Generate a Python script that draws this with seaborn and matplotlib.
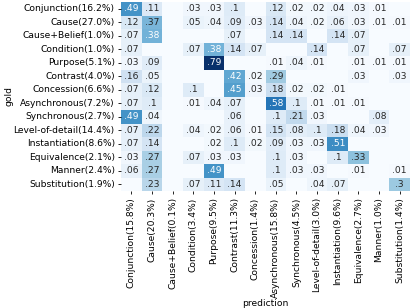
import numpy as np
import pandas as pd
import matplotlib
matplotlib.use("Agg")
import matplotlib.pyplot as plt
import seaborn as sns

gold_labels = [
    "Conjunction(16.2%)", "Cause(27.0%)", "Cause+Belief(1.0%)", "Condition(1.0%)",
    "Purpose(5.1%)", "Contrast(4.0%)", "Concession(6.6%)", "Asynchronous(7.2%)",
    "Synchronous(2.7%)", "Level-of-detail(14.4%)", "Instantiation(8.6%)",
    "Equivalence(2.1%)", "Manner(2.4%)", "Substitution(1.9%)",
]
pred_labels = [
    "Conjunction(15.8%)", "Cause(20.3%)", "Cause+Belief(0.1%)", "Condition(3.4%)",
    "Purpose(9.5%)", "Contrast(11.3%)", "Concession(1.4%)", "Asynchronous(15.8%)",
    "Synchronous(4.5%)", "Level-of-detail(3.0%)", "Instantiation(9.6%)",
    "Equivalence(2.7%)", "Manner(1.0%)", "Substitution(1.4%)",
]

# rows = gold, cols = prediction; 0 means empty cell
conf = [
    [.49, .11, 0, .03, .03, .10, 0, .12, .02, .02, .04, .03, .01, 0],
    [.12, .37, 0, .05, .04, .09, .03, .14, .04, .02, .06, .03, .01, .01],
    [.07, .38, 0, 0, 0, .07, 0, .14, .14, 0, .14, .07, 0, 0],
    [.07, 0, 0, .07, .38, .14, .07, 0, 0, .14, 0, .07, 0, .07],
    [.03, .09, 0, 0, .79, 0, 0, .01, .04, .01, 0, .01, .01, .01],
    [.16, .05, 0, 0, 0, .42, .02, .29, 0, 0, 0, .03, 0, .03],
    [.07, .12, 0, .10, 0, .45, .03, .18, .02, .02, .01, 0, 0, 0],
    [.07, .10, 0, .01, .04, .07, 0, .58, .10, .01, .01, .01, 0, 0],
    [.49, .04, 0, 0, 0, .06, 0, .10, .21, .03, 0, 0, .08, 0],
    [.07, .22, 0, .04, .02, .06, .01, .15, .08, .10, .18, .04, .03, 0],
    [.07, .14, 0, 0, .02, .10, .02, .09, .03, .03, .51, 0, 0, 0],
    [.03, .27, 0, .07, .03, .03, 0, .10, .03, 0, .10, .33, 0, 0],
    [.06, .27, 0, 0, .49, 0, 0, .10, .03, .03, 0, .01, 0, .01],
    [0, .23, 0, .07, .11, .14, 0, .05, 0, .04, .07, 0, 0, .30],
]

df = pd.DataFrame(conf, index=gold_labels, columns=pred_labels)


def fmt(v):
    if v == 0:
        return ""
    s = f"{v:.2f}".rstrip("0")
    return s[1:] if s.startswith("0") else s


annot = df.apply(lambda col: col.map(fmt))

fig, ax = plt.subplots(figsize=(4.11, 3.08), dpi=100)
sns.heatmap(
    df,
    cmap="Blues",
    vmin=0,
    vmax=df.values.max(),
    annot=annot,
    fmt="",
    annot_kws={"fontsize": 6.6},
    cbar=False,
    ax=ax,
)
ax.set_xlabel("prediction", fontsize=6.6, labelpad=1)
ax.set_ylabel("gold", fontsize=6.6, labelpad=0)
ax.tick_params(axis="both", labelsize=6.6, length=2.5, width=0.6, pad=2)
plt.setp(ax.get_xticklabels(), rotation=90)
plt.setp(ax.get_yticklabels(), rotation=0)

fig.subplots_adjust(left=121 / 411, right=410 / 411, top=1 - 2 / 308, bottom=1 - 191 / 308)
fig.savefig("out.png", dpi=100)
